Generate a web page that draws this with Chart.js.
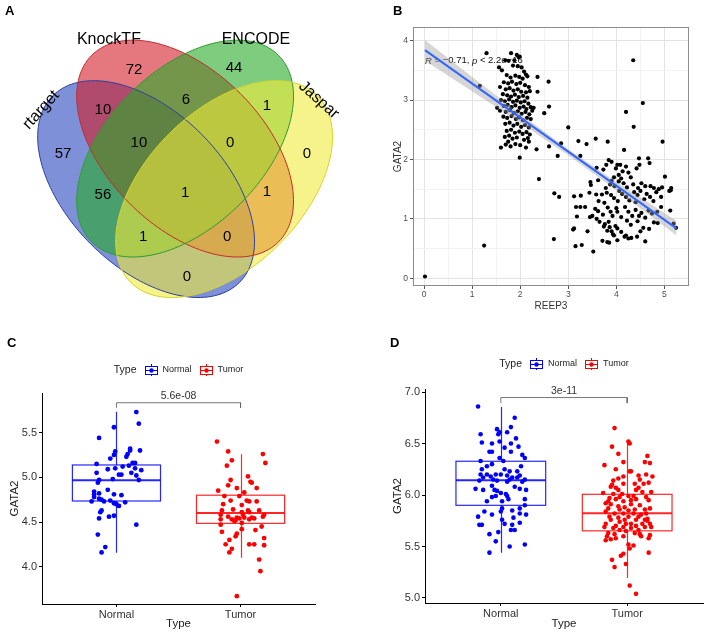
<!DOCTYPE html>
<html>
<head>
<meta charset="utf-8">
<script src="https://cdn.jsdelivr.net/npm/chart.js@4.4.1/dist/chart.umd.min.js"></script>
<style>
  body { margin: 0; background: #fff; }
  #wrap { position: relative; width: 708px; height: 632px; font-family: "Liberation Sans", Arial, sans-serif; }
  canvas { position: absolute; }
  .tag { position: absolute; font-weight: bold; font-size: 13px; color: #000; }
</style>
</head>
<body>
<div id="wrap">
  <canvas id="venn" width="350" height="316" style="left:0;top:0"></canvas>
  <canvas id="corr" width="358" height="316" style="left:350px;top:0"></canvas>
  <canvas id="boxC" width="350" height="312" style="left:0;top:320px"></canvas>
  <canvas id="boxD" width="358" height="312" style="left:350px;top:320px"></canvas>
  <div class="tag" style="left:5px;top:3px">A</div>
  <div class="tag" style="left:393px;top:3px">B</div>
  <div class="tag" style="left:7px;top:335px">C</div>
  <div class="tag" style="left:390px;top:335px">D</div>
</div>
<script>
Chart.defaults.font.family = '"Liberation Sans", Arial, sans-serif';
Chart.defaults.animation = false;
Chart.defaults.plugins.legend.display = false;
Chart.defaults.plugins.tooltip.enabled = false;

// ---------- A: venn ----------
const vennSets = ['rtarget', 'KnockTF', 'ENCODE', 'Jaspar'];
const setLabelX = [0.137, 0.363, 0.853, 1.063];
const setLabelY = [0.687, 0.923, 0.923, 0.72];
const setLabelTilt = [-48, 0, 0, 42];

// ellipse centres / tilt in venn units
const ellipseCx = [0.487, 0.617, 0.617, 0.747];
const ellipseCy = [0.423, 0.558, 0.558, 0.423];
const ellipseTilt = [-45, -45, 45, 45];
const ellipseA = 0.44, ellipseB = 0.26;

// region counts and where they sit
const vennCounts = [57, 72, 44, 0, 10, 6, 1, 10, 0, 56, 1, 1, 1, 0, 0];
const regionX = [0.21, 0.447, 0.78, 1.023, 0.343, 0.62, 0.89, 0.463, 0.767, 0.343, 0.617, 0.89, 0.477, 0.757, 0.623];
const regionY = [0.54, 0.82, 0.827, 0.54, 0.687, 0.72, 0.70, 0.577, 0.577, 0.403, 0.41, 0.413, 0.263, 0.263, 0.13];

const vennFill = ['rgba(40,70,190,0.6)', 'rgba(210,30,40,0.6)', 'rgba(40,170,40,0.6)', 'rgba(240,235,60,0.6)'];
const vennEdge = ['#2b3f9e', '#c42a2a', '#2f9a2f', '#d9d22a'];

const vennDraw = {
  id: 'vennDraw',
  beforeDatasetsDraw(chart) {
    const {ctx, scales: {x, y}} = chart;
    const paths = vennSets.map((s, i) => {
      const p = new Path2D();
      const phi = ellipseTilt[i] * Math.PI / 180;
      for (let k = 0; k <= 160; k++) {
        const t = k / 160 * 2 * Math.PI;
        const u = ellipseA * Math.cos(t), v = ellipseB * Math.sin(t);
        const px = x.getPixelForValue(ellipseCx[i] + u * Math.cos(phi) - v * Math.sin(phi));
        const py = y.getPixelForValue(ellipseCy[i] + u * Math.sin(phi) + v * Math.cos(phi));
        k ? p.lineTo(px, py) : p.moveTo(px, py);
      }
      p.closePath();
      return p;
    });
    ctx.save();
    paths.forEach((p, i) => { ctx.fillStyle = vennFill[i]; ctx.fill(p); });
    ctx.lineWidth = 1;
    paths.forEach((p, i) => { ctx.strokeStyle = vennEdge[i]; ctx.stroke(p); });
    ctx.restore();
  },
  afterDatasetsDraw(chart) {
    const {ctx} = chart;
    ctx.save();
    ctx.fillStyle = '#000';
    ctx.textAlign = 'center';
    ctx.textBaseline = 'middle';
    ctx.font = '15px "Liberation Sans", Arial, sans-serif';
    chart.getDatasetMeta(0).data.forEach((pt, i) => ctx.fillText(vennCounts[i], pt.x, pt.y));
    ctx.font = '16px "Liberation Sans", Arial, sans-serif';
    chart.getDatasetMeta(1).data.forEach((pt, i) => {
      ctx.save();
      ctx.translate(pt.x, pt.y);
      ctx.rotate(setLabelTilt[i] * Math.PI / 180);
      ctx.fillText(vennSets[i], 0, 0);
      ctx.restore();
    });
    ctx.restore();
  }
};

new Chart(document.getElementById('venn'), {
  type: 'scatter',
  data: {
    datasets: [
      { data: regionX.map((x, i) => ({x, y: regionY[i]})), pointRadius: 0 },
      { data: setLabelX.map((x, i) => ({x, y: setLabelY[i]})), pointRadius: 0 }
    ]
  },
  options: {
    responsive: false,
    layout: { padding: 0, autoPadding: false },
    scales: {
      x: { display: false, min: 0, max: 350 / 300 },
      y: { display: false, min: 0, max: 316 / 300 }
    }
  },
  plugins: [vennDraw]
});

// ---------- B: REEP3 vs GATA2 ----------
const corrPoints = [
  [0.02,0.03],[1.25,0.55],[1.16,3.24],[1.30,3.79],[2.39,1.67],[2.60,2.22],[2.59,3.31],[2.60,2.89],[2.50,2.78],
  [2.36,3.39],[2.36,3.14],[2.34,2.17],[2.85,2.27],[2.78,2.06],[3.00,2.54],[2.70,0.66],[2.71,1.43],[2.81,1.37],
  [4.35,3.67],[4.55,2.95],[4.20,2.80],[4.36,2.55],[4.96,2.30],[3.52,0.45],[3.21,2.31],[3.38,2.26],[3.57,2.35],[3.82,2.30],
  [1.81,3.79],[1.93,3.76],[1.97,3.72],[1.69,3.67],[1.76,3.66],[1.88,3.67],[1.99,3.73],
  [1.56,3.55],[1.62,3.50],[1.85,3.58],[1.95,3.57],[2.03,3.55],[2.08,3.48],[2.12,3.43],
  [1.72,3.42],[1.80,3.38],[1.90,3.41],[1.98,3.39],[2.05,3.36],[2.15,3.40],
  [1.66,3.30],[1.75,3.28],[1.83,3.31],[1.92,3.27],[2.00,3.29],[2.10,3.25],[2.18,3.22],
  [1.58,3.22],[1.70,3.18],[1.78,3.20],[1.86,3.16],[1.95,3.18],[2.02,3.14],[2.12,3.13],[2.20,3.15],
  [1.64,3.10],[1.73,3.08],[1.81,3.06],[1.89,3.09],[1.97,3.05],[2.06,3.07],[2.15,3.04],
  [1.60,3.00],[1.68,2.98],[1.77,3.01],[1.85,2.97],[1.93,2.99],[2.01,2.96],[2.09,2.98],[2.17,2.94],
  [1.66,2.90],[1.74,2.92],[1.82,2.88],[1.90,2.91],[1.99,2.87],[2.07,2.89],[2.13,2.85],[2.22,2.88],[2.28,2.87],
  [1.52,2.87],[1.58,2.82],[1.70,2.80],[1.79,2.83],[1.87,2.78],[1.95,2.81],[2.03,2.77],[2.11,2.80],[2.19,2.76],[2.25,2.82],
  [1.65,2.72],[1.73,2.70],[1.82,2.73],[1.91,2.68],[1.98,2.71],[2.06,2.66],[2.14,2.70],[2.22,2.68],
  [1.69,2.60],[1.78,2.62],[1.86,2.57],[1.94,2.60],[2.02,2.55],[2.10,2.58],[2.18,2.54],
  [1.72,2.48],[1.81,2.50],[1.89,2.45],[1.98,2.47],[2.05,2.43],[2.13,2.46],[2.20,2.42],
  [1.68,2.38],[1.77,2.40],[1.84,2.35],[1.93,2.37],[2.08,2.33],[2.16,2.36],
  [1.70,2.25],[1.80,2.22],[1.90,2.26],[2.00,2.24],[2.12,2.20],[1.60,2.20],[1.99,2.03],[2.18,2.30],[1.75,2.30],
  [3.25,2.06],[3.84,1.99],[3.90,1.96],[4.02,1.91],[4.08,1.91],[4.16,2.16],[4.47,2.02],[4.66,2.02],[4.48,1.91],
  [4.42,1.85],[4.69,1.94],[3.99,1.85],[3.79,1.91],[3.73,1.83],[4.13,1.80],[5.01,1.71],[3.59,1.86],[4.20,1.88],
  [4.25,1.78],[4.05,1.74],[3.95,1.70],
  [3.46,1.62],[3.47,1.57],[3.62,1.65],[3.78,1.52],[3.87,1.58],[3.96,1.55],[4.05,1.63],[4.15,1.60],[4.22,1.53],
  [4.35,1.58],[4.45,1.52],[4.52,1.60],[4.60,1.55],[4.71,1.55],[4.78,1.52],[4.88,1.50],[5.14,1.52],[5.13,1.48],
  [4.95,1.53],[4.30,1.70],[4.10,1.68],[3.90,1.64],
  [3.12,1.38],[3.26,1.39],[3.44,1.44],[3.58,1.41],[3.70,1.41],[3.80,1.44],[3.89,1.40],[3.95,1.35],[4.03,1.30],
  [4.12,1.42],[4.20,1.37],[4.27,1.31],[4.37,1.45],[4.44,1.40],[4.50,1.47],[4.58,1.33],[4.63,1.42],[4.70,1.37],
  [4.77,1.30],[4.83,1.45],[4.93,1.37],[5.10,1.47],[4.40,1.28],[3.75,1.27],[3.63,1.30],[4.06,1.47],
  [3.16,1.20],[3.25,1.20],[3.35,1.20],[3.50,1.05],[3.56,1.17],[3.62,1.13],[3.72,1.07],[3.82,1.19],[3.88,1.12],
  [3.92,1.05],[4.00,1.18],[4.02,1.12],[4.10,1.03],[4.18,1.20],[4.25,1.12],[4.33,1.05],[4.40,1.15],[4.47,1.05],
  [4.52,1.10],[4.60,1.02],[4.67,1.14],[4.74,1.09],[4.85,1.12],[4.93,1.20],[5.12,1.14],[3.45,1.03],[3.59,1.00],
  [3.10,0.82],[3.12,0.84],[3.18,1.04],[3.40,0.79],[3.65,0.95],[3.74,0.87],[3.81,0.80],[3.84,0.95],[3.86,0.86],
  [3.90,0.79],[3.98,0.88],[4.02,0.84],[4.10,0.78],[4.22,0.97],[4.30,0.90],[4.44,0.96],[4.56,0.85],[4.50,0.79],
  [4.68,0.83],[4.78,0.94],[4.86,0.93],[5.19,0.92],[3.76,0.91],
  [3.15,0.54],[3.28,0.56],[3.71,0.63],[3.81,0.61],[3.85,0.60],[3.95,0.72],[4.02,0.64],[4.17,0.70],[4.25,0.67],
  [4.31,0.68],[4.43,0.70],[4.60,0.62],[3.93,0.74],[4.20,0.72],[5.24,0.85]
];
const fitX = [0.02, 5.25];
const fitY = [3.84, 0.84];
const bandX = [0.02, 1, 2, 3, 4, 5.25];
const bandUpper = [4.01, 3.39, 2.77, 2.17, 1.62, 0.97];
const bandLower = [3.66, 3.15, 2.62, 2.07, 1.48, 0.72];
const corrTicksX = [0, 1, 2, 3, 4, 5];
const corrTicksY = [0, 1, 2, 3, 4];
const annotX = 0.02, annotY = 3.66;
const annotParts = [['R', true], [' = \u22120.71, ', false], ['p', true], [' < 2.2e\u221216', false]];

function withHalves(major) {
  const out = [];
  major.forEach((v, i) => {
    out.push({value: v});
    if (i < major.length - 1) out.push({value: v + 0.5});
  });
  return out;
}

const corrExtras = {
  id: 'corrExtras',
  beforeDatasetsDraw(chart) {
    const {ctx, scales: {x, y}} = chart;
    ctx.save();
    ctx.fillStyle = '#111';
    ctx.textBaseline = 'middle';
    let px = x.getPixelForValue(annotX);
    const py = y.getPixelForValue(annotY);
    annotParts.forEach(([txt, italic]) => {
      ctx.font = (italic ? 'italic ' : '') + '9.5px "Liberation Sans", Arial, sans-serif';
      ctx.fillText(txt, px, py);
      px += ctx.measureText(txt).width;
    });
    ctx.restore();
  },
  afterDraw(chart) {
    const {ctx, chartArea: a} = chart;
    ctx.save();
    ctx.strokeStyle = '#8c8c8c';
    ctx.lineWidth = 1;
    ctx.strokeRect(a.left + 0.5, a.top + 0.5, a.width - 1, a.height - 1);
    ctx.restore();
  }
};

const bwGrid = {
  drawTicks: true,
  tickLength: 3,
  color: c => (c.tick && Number.isInteger(c.tick.value)) ? '#e3e3e3' : '#f2f2f2',
  tickColor: c => (c.tick && Number.isInteger(c.tick.value)) ? '#555' : 'rgba(0,0,0,0)'
};

new Chart(document.getElementById('corr'), {
  type: 'scatter',
  data: {
    datasets: [
      { type: 'line', data: fitX.map((x, i) => ({x, y: fitY[i]})), borderColor: '#3366FF', borderWidth: 2, pointRadius: 0, fill: false, order: 0 },
      { type: 'line', data: bandX.map((x, i) => ({x, y: bandUpper[i]})), borderColor: 'rgba(0,0,0,0)', pointRadius: 0, fill: false, order: 1 },
      { type: 'line', data: bandX.map((x, i) => ({x, y: bandLower[i]})), borderColor: 'rgba(0,0,0,0)', pointRadius: 0, fill: '-1', backgroundColor: 'rgba(153,153,153,0.4)', order: 2 },
      { data: corrPoints.map(p => ({x: p[0], y: p[1]})), backgroundColor: '#000', borderWidth: 0, pointRadius: 2.1, order: 3 }
    ]
  },
  options: {
    responsive: false,
    layout: { padding: { left: 38, right: 19, top: 27, bottom: 0 }, autoPadding: false },
    scales: {
      x: {
        min: -0.229, max: 5.51,
        afterBuildTicks: s => { s.ticks = withHalves(corrTicksX); },
        afterFit: s => { s.height = 30; },
        grid: bwGrid,
        border: { display: false },
        ticks: { autoSkip: false, maxRotation: 0, padding: 1, color: '#4d4d4d', font: { size: 8.5 },
                 callback: v => Number.isInteger(v) ? String(v) : '' },
        title: { display: true, text: 'REEP3', color: '#333', font: { size: 10 }, padding: { top: 0, bottom: 4 } }
      },
      y: {
        min: -0.13, max: 4.23,
        afterBuildTicks: s => { s.ticks = withHalves(corrTicksY); },
        afterFit: s => { s.width = 25; },
        grid: bwGrid,
        border: { display: false },
        ticks: { autoSkip: false, padding: 2, color: '#4d4d4d', font: { size: 8.5 },
                 callback: v => Number.isInteger(v) ? String(v) : '' },
        title: { display: true, text: 'GATA2', color: '#333', font: { size: 10 }, padding: { top: 4, bottom: 0 } }
      }
    }
  },
  plugins: [corrExtras]
});

// ---------- C, D: boxplots ----------
const groups = ['Normal', 'Tumor'];
const groupColors = ['#0000FF', '#FF0000'];
const legendTitle = 'Type';

const normalC = [[1.16,5.73],[1.18,5.60],[0.98,5.56],[0.86,5.44],[1.11,5.32],[1.11,5.30],[1.19,5.30],[0.99,5.29],[0.98,5.25],[0.95,5.21],[1.08,5.23],[1.09,5.26],[1.13,5.16],[1.15,5.16],[0.84,5.15],[1.05,5.12],[1.10,5.13],[1.15,5.10],[0.93,5.09],[0.99,5.10],[1.20,5.08],[1.12,5.05],[1.02,5.03],[1.04,5.03],[1.16,5.02],[0.84,5.05],[0.97,4.98],[1.18,4.97],[0.86,4.97],[0.85,4.94],[0.93,4.86],[0.82,4.84],[0.82,4.81],[0.86,4.82],[0.82,4.78],[0.98,4.81],[1.04,4.80],[0.86,4.76],[0.88,4.75],[0.95,4.74],[0.90,4.73],[1.00,4.70],[1.02,4.68],[1.07,4.72],[0.80,4.73],[0.98,4.71],[0.88,4.63],[0.87,4.61],[0.86,4.54],[0.94,4.56],[0.98,4.57],[1.16,4.47],[0.85,4.36],[0.91,4.22],[0.88,4.16]];
const tumorC = [[1.81,5.40],[1.90,5.29],[2.18,5.26],[2.20,5.16],[1.93,5.19],[1.89,5.13],[2.06,5.01],[2.08,4.95],[2.09,4.94],[1.92,4.97],[1.90,4.91],[1.97,4.88],[2.13,4.88],[1.82,4.85],[2.03,4.83],[1.87,4.79],[1.99,4.79],[2.05,4.74],[2.13,4.73],[2.07,4.73],[1.92,4.74],[1.86,4.70],[2.01,4.69],[1.94,4.64],[1.85,4.63],[2.06,4.63],[2.15,4.63],[2.01,4.61],[2.07,4.61],[1.84,4.58],[2.02,4.58],[2.19,4.58],[1.90,4.56],[1.97,4.55],[2.09,4.55],[1.99,4.54],[2.03,4.55],[1.84,4.53],[1.93,4.53],[2.11,4.54],[2.18,4.56],[1.95,4.51],[2.07,4.53],[2.01,4.49],[1.96,4.52],[1.84,4.47],[2.01,4.42],[2.12,4.41],[2.17,4.45],[1.85,4.39],[1.97,4.37],[1.96,4.34],[2.19,4.32],[1.91,4.30],[1.88,4.25],[2.07,4.25],[2.11,4.25],[2.19,4.24],[1.93,4.20],[1.91,4.16],[2.15,4.08],[2.16,3.95],[1.97,3.67]];
const cLower = [4.157, 4.10];
const cQ1 = [4.735, 4.485];
const cMedian = [4.967, 4.60];
const cQ3 = [5.138, 4.80];
const cUpper = [5.734, 5.257];
const cTicks = [4.0, 4.5, 5.0, 5.5];
const cBracketY = 5.834, cBracketFoot = 5.778, cPValue = '5.6e-08';

const normalD = [[0.82,6.86],[1.11,6.75],[1.08,6.66],[0.97,6.64],[0.99,6.61],[1.05,6.61],[0.84,6.59],[0.98,6.59],[1.12,6.55],[0.85,6.51],[0.99,6.52],[0.93,6.50],[1.08,6.50],[1.14,6.47],[1.03,6.46],[0.93,6.42],[0.91,6.42],[1.08,6.42],[1.17,6.39],[1.19,6.36],[0.99,6.36],[0.84,6.33],[1.02,6.33],[0.93,6.30],[0.85,6.25],[0.89,6.28],[1.03,6.25],[1.16,6.28],[1.07,6.23],[1.13,6.23],[0.96,6.20],[0.84,6.20],[0.89,6.20],[0.92,6.18],[1.00,6.20],[1.09,6.17],[1.05,6.19],[1.15,6.19],[1.13,6.17],[0.86,6.17],[0.94,6.15],[1.07,6.15],[1.19,6.15],[0.83,6.14],[0.97,6.14],[1.05,6.13],[1.17,6.13],[0.93,6.09],[1.11,6.08],[0.80,6.06],[0.86,6.05],[0.95,6.05],[0.97,6.04],[1.04,6.01],[1.00,6.02],[1.15,6.06],[1.20,6.05],[0.96,5.99],[0.93,5.98],[1.05,5.99],[1.06,5.96],[0.89,5.94],[1.19,5.96],[1.01,5.94],[1.19,5.90],[1.15,5.87],[1.01,5.87],[1.09,5.85],[0.87,5.84],[0.93,5.81],[1.00,5.84],[0.82,5.79],[1.15,5.82],[1.20,5.81],[1.10,5.78],[1.01,5.76],[1.03,5.72],[0.83,5.71],[0.85,5.71],[1.09,5.71],[1.15,5.73],[1.08,5.66],[1.11,5.66],[0.91,5.62],[0.98,5.64],[0.96,5.55],[1.19,5.52],[1.07,5.50],[0.91,5.44]];
const tumorD = [[1.90,6.65],[2.01,6.52],[2.02,6.50],[1.88,6.47],[1.93,6.40],[2.16,6.38],[1.82,6.29],[1.97,6.32],[2.14,6.32],[2.18,6.31],[1.91,6.25],[2.02,6.23],[2.03,6.23],[2.09,6.19],[2.15,6.20],[2.20,6.18],[1.97,6.18],[1.89,6.14],[2.10,6.15],[1.88,6.10],[1.97,6.11],[2.06,6.11],[2.13,6.11],[2.17,6.12],[1.91,6.07],[1.87,6.08],[1.93,6.05],[1.81,6.02],[2.09,6.07],[2.12,6.03],[2.19,6.03],[1.89,6.01],[1.96,6.01],[2.01,5.99],[2.05,5.99],[2.15,5.98],[1.86,5.97],[1.91,5.96],[1.97,5.94],[2.07,5.96],[2.17,5.95],[1.83,5.92],[1.87,5.91],[2.03,5.91],[2.10,5.90],[1.93,5.89],[1.98,5.88],[1.85,5.87],[2.06,5.86],[2.14,5.86],[2.18,5.87],[1.94,5.86],[2.01,5.85],[1.83,5.84],[1.90,5.82],[1.97,5.82],[2.05,5.82],[2.11,5.81],[1.86,5.79],[1.93,5.78],[2.01,5.79],[2.09,5.79],[2.16,5.77],[1.87,5.76],[1.98,5.76],[2.07,5.76],[2.16,5.75],[1.94,5.74],[2.03,5.72],[1.83,5.72],[2.12,5.72],[2.18,5.72],[1.91,5.70],[1.97,5.69],[2.07,5.70],[1.82,5.69],[1.89,5.68],[2.03,5.68],[2.14,5.69],[1.94,5.66],[1.99,5.65],[2.19,5.69],[1.85,5.63],[2.06,5.63],[1.90,5.62],[2.10,5.62],[2.18,5.61],[1.84,5.60],[1.97,5.60],[2.11,5.60],[1.87,5.57],[2.01,5.52],[1.83,5.56],[2.05,5.51],[2.17,5.58],[2.02,5.48],[2.17,5.44],[1.97,5.43],[1.88,5.37],[1.95,5.41],[1.90,5.30],[1.99,5.33],[2.02,5.12],[2.07,5.04],[1.93,6.16],[2.07,6.05],[1.85,5.94],[2.15,5.82],[1.99,5.72],[2.09,5.66],[1.91,5.58],[2.14,5.76],[2.03,5.95],[1.94,5.98]];
const dLower = [5.438, 5.195];
const dQ1 = [5.90, 5.652];
const dMedian = [6.143, 5.822];
const dQ3 = [6.328, 6.007];
const dUpper = [6.854, 6.529];
const dTicks = [5.0, 5.5, 6.0, 6.5, 7.0];
const dBracketY = 6.947, dBracketFoot = 6.893, dPValue = '3e-11';

const FONT = '"Liberation Sans", Arial, sans-serif';

function drawKey(ctx, cx, cy, color) {
  ctx.strokeStyle = color;
  ctx.fillStyle = color;
  ctx.lineWidth = 1;
  ctx.beginPath();
  ctx.moveTo(cx + 0.5, cy - 6); ctx.lineTo(cx + 0.5, cy - 4);
  ctx.moveTo(cx + 0.5, cy + 4); ctx.lineTo(cx + 0.5, cy + 6);
  ctx.stroke();
  ctx.strokeRect(cx - 5.5, cy - 3.5, 12, 8);
  ctx.beginPath(); ctx.moveTo(cx - 5.5, cy + 0.5); ctx.lineTo(cx + 6.5, cy + 0.5); ctx.stroke();
  ctx.beginPath(); ctx.arc(cx + 0.5, cy + 0.5, 2.2, 0, Math.PI * 2); ctx.fill();
}

function boxChart(id, o) {
  const boxes = {
    id: 'boxes',
    beforeDatasetsDraw(chart) {
      const {ctx, scales: {x, y}} = chart;
      ctx.save();
      o.median.forEach((m, i) => {
        const c = i + 1;
        const cx = Math.round(x.getPixelForValue(c)) + 0.5;
        const l = x.getPixelForValue(c - 0.355), r = x.getPixelForValue(c + 0.355);
        const top = y.getPixelForValue(o.q3[i]), bot = y.getPixelForValue(o.q1[i]);
        ctx.strokeStyle = groupColors[i];
        ctx.globalAlpha = 0.85;
        ctx.lineWidth = 1.2;
        ctx.beginPath();
        ctx.moveTo(cx, y.getPixelForValue(o.hi[i])); ctx.lineTo(cx, top);
        ctx.moveTo(cx, bot); ctx.lineTo(cx, y.getPixelForValue(o.lo[i]));
        ctx.stroke();
        ctx.strokeRect(l, top, r - l, bot - top);
        ctx.lineWidth = 2;
        const my = y.getPixelForValue(m);
        ctx.beginPath(); ctx.moveTo(l, my); ctx.lineTo(r, my); ctx.stroke();
      });
      ctx.globalAlpha = 1;
      ctx.fillStyle = '#333';
      ctx.font = '10.5px ' + FONT;
      ctx.textAlign = 'center';
      ctx.textBaseline = 'bottom';
      ctx.fillText(o.pValue, x.getPixelForValue(1.5), y.getPixelForValue(o.bracketY) - 1);
      ctx.restore();
    },
    afterDraw(chart) {
      const {ctx, chartArea: a} = chart;
      const cy = a.top - o.legendGap;
      ctx.save();
      ctx.textBaseline = 'middle';
      ctx.fillStyle = '#222';
      ctx.font = '10.5px ' + FONT;
      const titleW = ctx.measureText(legendTitle).width;
      ctx.font = '9px ' + FONT;
      const widths = groups.map(g => ctx.measureText(g).width);
      const total = titleW + widths.reduce((s, w) => s + 8 + 12 + 6 + w, 0);
      let cur = (a.left + a.right) / 2 - total / 2;
      ctx.font = '10.5px ' + FONT;
      ctx.fillText(legendTitle, cur, cy);
      cur += titleW + 8;
      groups.forEach((g, i) => {
        drawKey(ctx, Math.round(cur + 6), Math.round(cy), groupColors[i]);
        cur += 12 + 6;
        ctx.fillStyle = '#222';
        ctx.font = '9px ' + FONT;
        ctx.fillText(g, cur, cy);
        cur += widths[i] + 8;
      });
      ctx.restore();
    }
  };

  const axisBase = {
    grid: { drawOnChartArea: false, drawTicks: true, tickLength: 3, tickColor: '#000' },
    border: { display: true, color: '#000', width: 1 },
    ticks: { autoSkip: false, maxRotation: 0, color: '#333', font: { size: 11 } }
  };

  return new Chart(document.getElementById(id), {
    type: 'scatter',
    data: {
      datasets: [
        { type: 'line', data: [{x: 1, y: o.bracketFoot}, {x: 1, y: o.bracketY}, {x: 2, y: o.bracketY}, {x: 2, y: o.bracketFoot}],
          borderColor: '#666', borderWidth: 0.9, pointRadius: 0, fill: false, order: 0 },
        { data: o.normal.map(p => ({x: p[0], y: p[1]})), backgroundColor: groupColors[0], borderWidth: 0, pointRadius: o.dot, order: 2 },
        { data: o.tumor.map(p => ({x: p[0], y: p[1]})), backgroundColor: groupColors[1], borderWidth: 0, pointRadius: o.dot, order: 1 }
      ]
    },
    options: {
      responsive: false,
      layout: { padding: o.padding, autoPadding: false },
      scales: {
        x: {
          ...axisBase,
          min: 0.4, max: 2.6,
          afterBuildTicks: s => { s.ticks = groups.map((g, i) => ({value: i + 1})); },
          afterFit: s => { s.height = o.xHeight; },
          ticks: { ...axisBase.ticks, padding: 1, callback: v => groups[v - 1] },
          title: { display: true, text: 'Type', color: '#222', font: { size: 11.5 }, padding: { top: 0, bottom: 1 } }
        },
        y: {
          ...axisBase,
          min: o.yMin, max: o.yMax,
          afterBuildTicks: s => { s.ticks = o.ticks.map(v => ({value: v})); },
          afterFit: s => { s.width = o.yWidth; },
          ticks: { ...axisBase.ticks, padding: 2, callback: v => v.toFixed(1) },
          title: { display: true, text: 'GATA2', color: '#222', font: { size: 11.5 }, padding: { top: 4, bottom: 0 } }
        }
      }
    },
    plugins: [boxes]
  });
}

boxChart('boxC', {
  normal: normalC, tumor: tumorC,
  lo: cLower, q1: cQ1, median: cMedian, q3: cQ3, hi: cUpper,
  ticks: cTicks, yMin: 3.583, yMax: 5.943,
  bracketY: cBracketY, bracketFoot: cBracketFoot, pValue: cPValue,
  padding: { left: 4, right: 35, top: 73, bottom: 0 }, yWidth: 38, xHeight: 28,
  legendGap: 23, dot: 2.4
});

boxChart('boxD', {
  normal: normalD, tumor: tumorD,
  lo: dLower, q1: dQ1, median: dMedian, q3: dQ3, hi: dUpper,
  ticks: dTicks, yMin: 4.951, yMax: 7.03,
  bracketY: dBracketY, bracketFoot: dBracketFoot, pValue: dPValue,
  padding: { left: 37, right: 5, top: 69, bottom: 0 }, yWidth: 38, xHeight: 29,
  legendGap: 25, dot: 2.3
});
</script>
</body>
</html>
